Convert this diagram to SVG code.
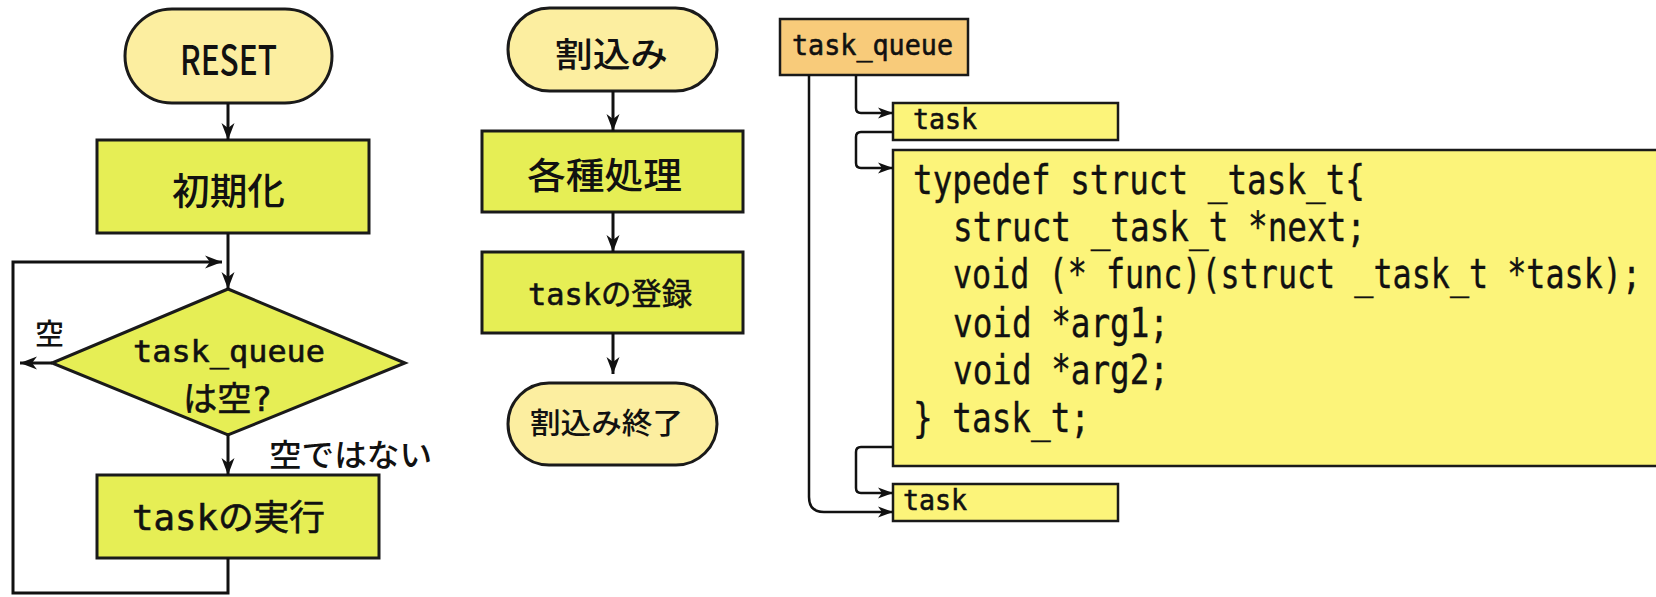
<svg xmlns="http://www.w3.org/2000/svg" width="1656" height="597" viewBox="0 0 1656 597">
  <defs>
    <marker id="arrow" markerUnits="userSpaceOnUse" markerWidth="18" markerHeight="16" viewBox="0 0 18 16" refX="17" refY="8" orient="auto">
      <path d="M0,1.5 L17,8 L0,14.5 L5,8 Z" fill="#111"/>
    </marker>
    <marker id="arrow-s" markerUnits="userSpaceOnUse" markerWidth="16" markerHeight="14" viewBox="0 0 16 14" refX="15" refY="7" orient="auto">
      <path d="M0,1.5 L15,7 L0,12.5 L4,7 Z" fill="#111"/>
    </marker>
    <style>
      .term { fill: #FCEEA0; stroke: #1a1a1a; stroke-width: 3; }
      .proc { fill: #E6EE55; stroke: #1a1a1a; stroke-width: 3; }
      .queue { fill: #F8CB7A; stroke: #1a1a1a; stroke-width: 2.5; }
      .task { fill: #FCF47A; stroke: #1a1a1a; stroke-width: 2.5; }
      .flow { fill: none; stroke: #111; stroke-width: 3; }
      .link { fill: none; stroke: #111; stroke-width: 2.5; }
      text { fill: #111; font-family: "DejaVu Sans Mono", "Noto Sans CJK JP", monospace; }
      .jp { font-family: "Noto Sans CJK JP", sans-serif; font-weight: 500; }
      .lbl { stroke: #111; stroke-width: 0.6; }
      .code { font-size: 41px; stroke: #111; stroke-width: 0.4; }
    </style>
  </defs>

  <rect width="1656" height="597" fill="#ffffff"/>

  <!-- main loop flowchart -->
  <g id="reset">
    <rect class="term" x="125" y="9" width="207" height="94" rx="47"/>
    <text class="jp" x="180" y="75" font-size="41" textLength="97" lengthAdjust="spacingAndGlyphs">RESET</text>
  </g>
  <g id="init">
    <rect class="proc" x="97" y="140" width="272" height="93"/>
    <text class="jp" x="172" y="205" font-size="37" textLength="113" lengthAdjust="spacingAndGlyphs">初期化</text>
  </g>
  <g id="queue-empty">
    <polygon class="proc" points="228,289 405,363 228,435 52,363"/>
    <text class="lbl" x="133" y="362" font-size="31" textLength="192" lengthAdjust="spacingAndGlyphs">task_queue</text>
    <text class="lbl" x="183" y="411" font-size="34" textLength="89" lengthAdjust="spacingAndGlyphs">は空?</text>
  </g>
  <g id="run-task">
    <rect class="proc" x="97" y="475" width="282" height="83"/>
    <text class="lbl" x="132" y="530" font-size="35" textLength="193" lengthAdjust="spacingAndGlyphs">taskの実行</text>
  </g>

  <!-- interrupt flowchart -->
  <g id="irq">
    <rect class="term" x="508" y="8" width="209" height="83" rx="41.5"/>
    <text class="jp" x="555" y="67" font-size="34" textLength="113" lengthAdjust="spacingAndGlyphs">割込み</text>
  </g>
  <g id="handlers">
    <rect class="proc" x="482" y="131" width="261" height="81"/>
    <text class="jp" x="527" y="189" font-size="36" textLength="155" lengthAdjust="spacingAndGlyphs">各種処理</text>
  </g>
  <g id="register-task">
    <rect class="proc" x="482" y="252" width="261" height="81"/>
    <text class="lbl" x="528" y="305" font-size="31" textLength="164" lengthAdjust="spacingAndGlyphs">taskの登録</text>
  </g>
  <g id="irq-end">
    <rect class="term" x="508" y="383" width="209" height="82" rx="41"/>
    <text class="jp" x="530" y="434" font-size="29" textLength="153" lengthAdjust="spacingAndGlyphs">割込み終了</text>
  </g>

  <!-- task queue structure -->
  <g id="task-queue">
    <rect class="queue" x="780" y="19" width="188" height="56"/>
    <text class="lbl" x="792" y="55" font-size="29" textLength="161" lengthAdjust="spacingAndGlyphs">task_queue</text>
  </g>
  <g id="task-1">
    <rect class="task" x="893" y="103" width="225" height="37"/>
    <text class="lbl" x="913" y="129" font-size="28" textLength="64" lengthAdjust="spacingAndGlyphs">task</text>
  </g>
  <g id="task-struct">
    <rect class="task" x="893" y="150" width="800" height="316"/>
    <text class="code" x="913" y="194" textLength="452" lengthAdjust="spacingAndGlyphs">typedef struct _task_t{</text>
    <text class="code" x="953" y="241" textLength="413" lengthAdjust="spacingAndGlyphs">struct _task_t *next;</text>
    <text class="code" x="953" y="288" textLength="688" lengthAdjust="spacingAndGlyphs">void (* func)(struct _task_t *task);</text>
    <text class="code" x="953" y="337" textLength="216" lengthAdjust="spacingAndGlyphs">void *arg1;</text>
    <text class="code" x="953" y="384" textLength="216" lengthAdjust="spacingAndGlyphs">void *arg2;</text>
    <text class="code" x="913" y="432" textLength="177" lengthAdjust="spacingAndGlyphs">} task_t;</text>
  </g>
  <g id="task-2">
    <rect class="task" x="893" y="484" width="225" height="37"/>
    <text class="lbl" x="903" y="510" font-size="28" textLength="64" lengthAdjust="spacingAndGlyphs">task</text>
  </g>

  <!-- connectors -->
  <g id="connectors">
    <path class="flow" d="M228,103 V140" marker-end="url(#arrow)"/>
    <path class="flow" d="M228,233 V289" marker-end="url(#arrow)"/>
    <path class="flow" d="M228,558 V593 H13 V262 H222" marker-end="url(#arrow)"/>
    <path class="flow" d="M52,363 H20" marker-end="url(#arrow)"/>
    <path class="flow" d="M228,435 V475" marker-end="url(#arrow)"/>

    <path class="flow" d="M613,91 V131" marker-end="url(#arrow)"/>
    <path class="flow" d="M613,212 V252" marker-end="url(#arrow)"/>
    <path class="flow" d="M613,333 V374" marker-end="url(#arrow)"/>

    <path class="link" d="M856,75 V108 Q856,113 861,113 H893" marker-end="url(#arrow-s)"/>
    <path class="link" d="M893,132 H861 Q856,132 856,137 V163 Q856,168 861,168 H893" marker-end="url(#arrow-s)"/>
    <path class="link" d="M893,447 H861 Q856,447 856,452 V488 Q856,493 861,493 H893" marker-end="url(#arrow-s)"/>
    <path class="link" d="M809,75 V497 Q809,512 824,512 H893" marker-end="url(#arrow-s)"/>
  </g>

  <!-- branch labels -->
  <g id="labels">
    <text class="jp" x="35" y="345" font-size="29">空</text>
    <text class="jp" x="269" y="466" font-size="31" textLength="163" lengthAdjust="spacingAndGlyphs">空ではない</text>
  </g>
</svg>
